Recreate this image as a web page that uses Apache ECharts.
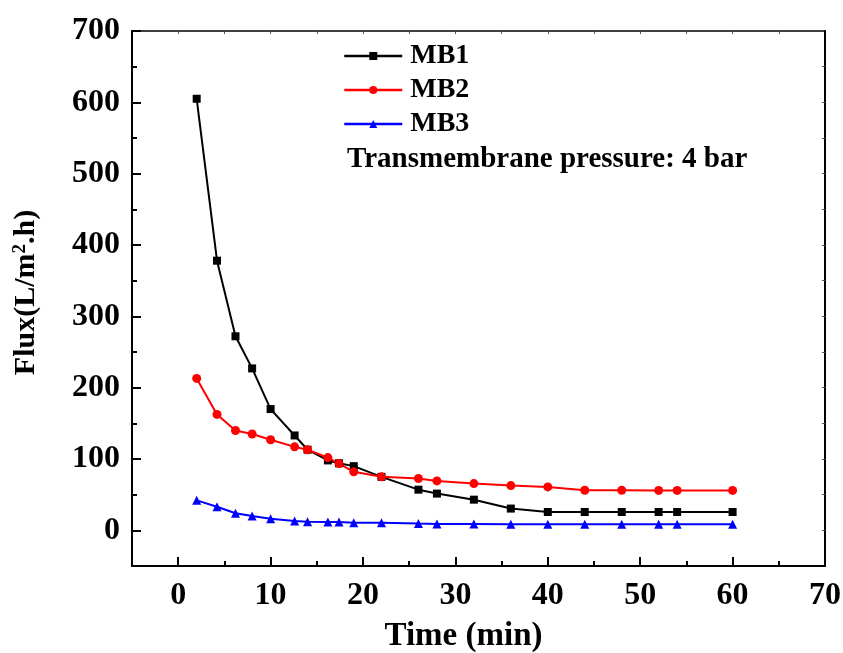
<!DOCTYPE html>
<html>
<head>
<meta charset="utf-8">
<script src="https://cdn.jsdelivr.net/npm/echarts@6/dist/echarts.min.js"></script>
<style>html,body{margin:0;padding:0;background:#fff;}#c{width:843px;height:653px;}</style>
</head>
<body>
<div id="c"></div>
<script>
const time = [2, 4.2, 6.2, 8, 10, 12.6, 14, 16.2, 17.4, 19, 22, 26, 28, 32, 36, 40, 44, 48, 52, 54, 60];
const mb1 = [605, 378, 272, 227, 170, 133, 113, 98, 94, 90, 75, 57, 51.5, 43, 30.5, 25.7, 25.7, 25.7, 25.7, 25.7, 25.7];
const mb2 = [213, 162.5, 140, 135, 127, 117, 113, 102, 93.6, 82, 75, 72.6, 69.3, 65.5, 62.7, 60.9, 56.2, 56.2, 56, 56, 56];
const mb3 = [42, 33, 24, 20, 16.4, 13, 12.2, 11.7, 11.7, 10.8, 10.8, 9.5, 9, 9, 8.7, 8.5, 8.5, 8.5, 8.5, 8.5, 8.5];
const xMajor = [0, 10, 20, 30, 40, 50, 60, 70];
const xMinor = [5, 15, 25, 35, 45, 55, 65];
const yMajor = [0, 100, 200, 300, 400, 500, 600, 700];
const yMinor = [50, 150, 250, 350, 450, 550, 650];
const topTicks = [0, 5, 10, 15, 20, 25, 30, 35, 40, 45, 50, 55, 60, 65];
const rightTicks = [0, 50, 100, 150, 200, 250, 300, 350, 400, 450, 500, 550, 600, 650];
const seriesNames = ['MB1', 'MB2', 'MB3'];
const annotation = 'Transmembrane pressure: 4 bar';

const FONT = '"Liberation Serif", "Times New Roman", serif';
const chart = echarts.init(document.getElementById('c'), null, {renderer: 'canvas'});
const pair = (ys) => time.map((t, i) => [t, ys[i]]);

function tickAxis(pos, min, max, values, len, width, color) {
  return {
    type: 'value', min: min, max: max, position: pos,
    axisLine: {show: false, onZero: false},
    axisTick: {show: true, inside: true, length: len, lineStyle: {width: width, color: color}, customValues: values},
    axisLabel: {show: false}, splitLine: {show: false}
  };
}

const option = {
  backgroundColor: '#fff',
  animation: false,
  grid: {left: 132, top: 31, right: 18, bottom: 87, containLabel: false, outerBoundsMode: 'none'},
  legend: {
    orient: 'vertical', left: 343, top: 42, padding: 0, itemWidth: 58, itemHeight: 10, itemGap: 6,
    data: seriesNames,
    lineStyle: {width: 2.5},
    textStyle: {fontFamily: FONT, fontWeight: 'bold', fontSize: 28, color: '#000', padding: [0, 0, 0, 3]}
  },
  graphic: [{
    type: 'text', left: 347, top: 145,
    style: {text: annotation, font: 'bold 29px ' + FONT, fill: '#000'}
  }],
  xAxis: [{
    type: 'value', min: -5, max: 70, position: 'bottom',
    axisLine: {show: true, onZero: false, lineStyle: {color: '#000', width: 2}},
    axisTick: {show: false},
    axisLabel: {show: true, customValues: xMajor, margin: 14, color: '#000', fontFamily: FONT, fontWeight: 'bold', fontSize: 32},
    splitLine: {show: false},
    name: 'Time (min)', nameLocation: 'middle', nameGap: 54,
    nameTextStyle: {fontFamily: FONT, fontWeight: 'bold', fontSize: 33, color: '#000', padding: [0, 30, 0, 0]}
  },
  tickAxis('bottom', -5, 70, xMajor, 9, 2, '#000'),
  tickAxis('bottom', -5, 70, xMinor, 5, 2, '#000'),
  {
    type: 'value', min: -5, max: 70, position: 'top',
    axisLine: {show: true, onZero: false, lineStyle: {color: '#000', width: 1.5}},
    axisTick: {show: false}, axisLabel: {show: false}, splitLine: {show: false}
  },
  tickAxis('top', -5, 70, topTicks, 3, 1, '#555')
  ],
  yAxis: [{
    type: 'value', min: -50, max: 700, position: 'left',
    axisLine: {show: true, onZero: false, lineStyle: {color: '#000', width: 2}},
    axisTick: {show: false},
    axisLabel: {show: true, customValues: yMajor, margin: 12, color: '#000', fontFamily: FONT, fontWeight: 'bold', fontSize: 32},
    splitLine: {show: false},
    name: '{a|Flux(L/m}{s|2}{a|.h)}', nameLocation: 'middle', nameGap: 90, nameRotate: 90,
    nameTextStyle: {
      color: '#000', padding: [0, 0, 0, 12],
      rich: {
        a: {fontFamily: FONT, fontWeight: 'bold', fontSize: 30, color: '#000'},
        s: {fontFamily: FONT, fontWeight: 'bold', fontSize: 19, color: '#000', verticalAlign: 'top', padding: [0, 0, 12, 0]}
      }
    }
  },
  tickAxis('left', -50, 700, yMajor, 9, 2, '#000'),
  tickAxis('left', -50, 700, yMinor, 5, 2, '#000'),
  {
    type: 'value', min: -50, max: 700, position: 'right',
    axisLine: {show: true, onZero: false, lineStyle: {color: '#000', width: 2}},
    axisTick: {show: false}, axisLabel: {show: false}, splitLine: {show: false}
  },
  tickAxis('right', -50, 700, rightTicks, 3, 1, '#555')
  ],
  series: [
    {name: 'MB1', type: 'line', data: pair(mb1), symbol: 'rect', symbolSize: 8,
     lineStyle: {color: '#000', width: 2}, itemStyle: {color: '#000'}},
    {name: 'MB2', type: 'line', data: pair(mb2), symbol: 'circle', symbolSize: 9,
     lineStyle: {color: '#ff0000', width: 2}, itemStyle: {color: '#ff0000'}},
    {name: 'MB3', type: 'line', data: pair(mb3), symbol: 'triangle', symbolSize: 9,
     lineStyle: {color: '#0000ff', width: 2}, itemStyle: {color: '#0000ff'}}
  ]
};
chart.setOption(option);
</script>
</body>
</html>
